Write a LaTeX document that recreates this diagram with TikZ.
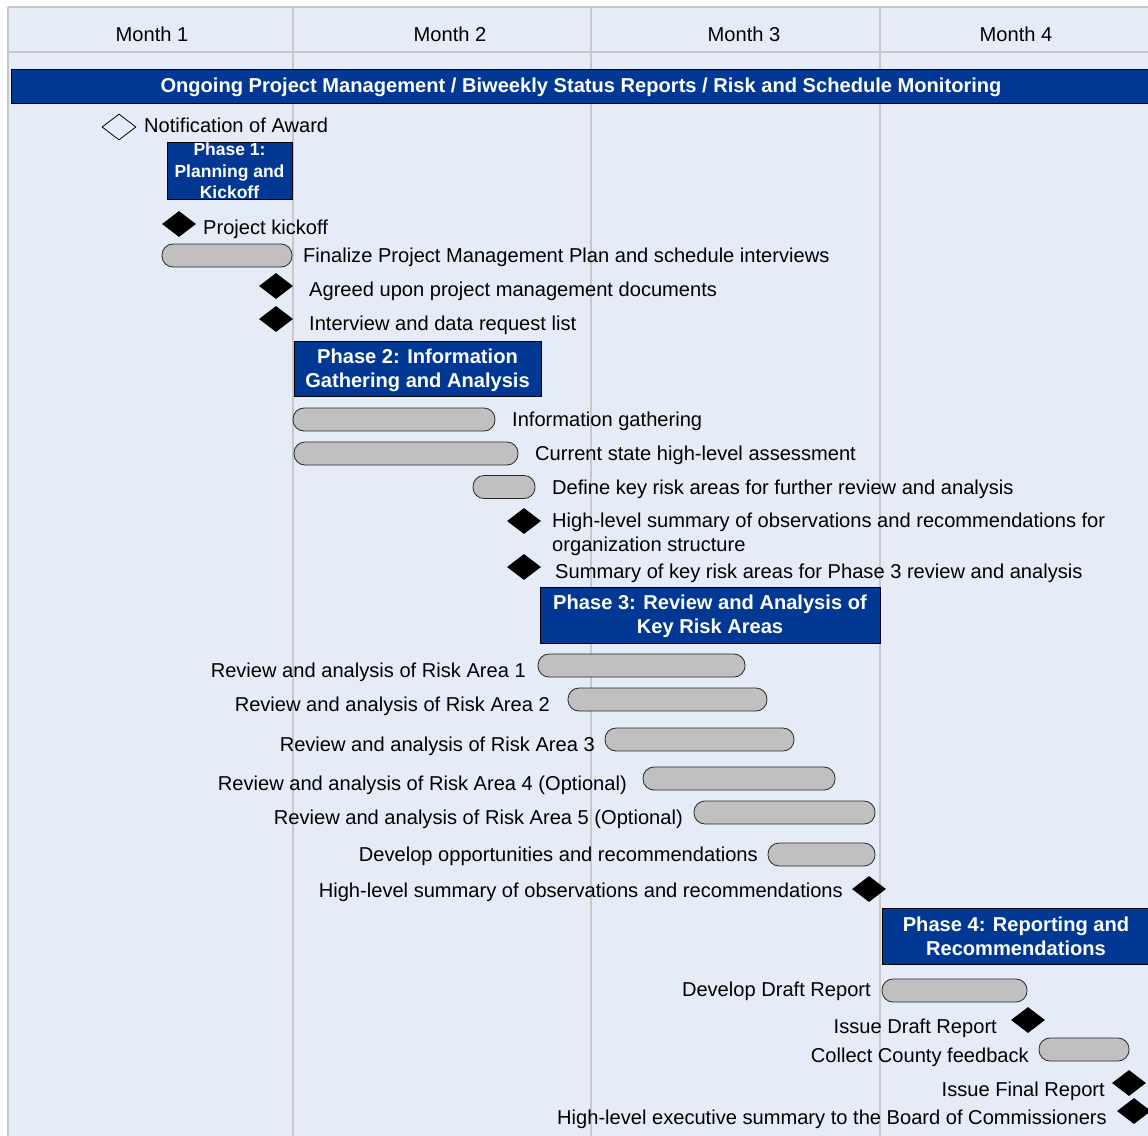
\documentclass[tikz,border=0pt]{standalone}
\usepackage{fontspec}
\setmainfont{Liberation Sans}
\usetikzlibrary{shapes.geometric}
\definecolor{bgblue}{HTML}{E6ECF7}
\definecolor{gridgray}{HTML}{C8C8C8}
\definecolor{phaseblue}{HTML}{003893}
\definecolor{bargray}{HTML}{C0C0C0}
\begin{document}
\begin{tikzpicture}[x=1pt,y=-1pt,
 lbl/.style={font=\fontsize{20.1}{24}\selectfont, inner sep=0pt},
 ms/.style={diamond, fill=black, minimum width=34pt, minimum height=26pt, inner sep=0pt},
 msopen/.style={diamond, draw=black, line width=0.8pt, minimum width=34pt, minimum height=26pt, inner sep=0pt},
 bar/.style={draw=black!85, fill=bargray, rounded corners=11pt, minimum height=23pt, inner sep=0pt, line width=0.8pt},
 phase/.style={draw=black, fill=phaseblue, inner sep=0pt, line width=0.8pt},
 phasetext/.style={lbl, font=\bfseries\fontsize{20.1}{24}\selectfont, text=white, align=center, anchor=base},
 gridline/.style={draw=gridgray, line width=1.2pt}
]
\useasboundingbox (0,0) rectangle (1148,1135);
\clip (0,0) rectangle (1148,1135);
\fill[white] (0,0) rectangle (1148,1135);
\fill[bgblue] (8,7) rectangle (1152,1140);
% grid
\path[gridline] (8,7) -- (1152,7);
\path[gridline] (8,52) -- (1152,52);
\path[gridline] (8,7) -- (8,1140);
\path[gridline] (293,7) -- (293,1140);
\path[gridline] (591,7) -- (591,1140);
\path[gridline] (880,7) -- (880,1140);
% months
\node[lbl, anchor=base] (m1) at (152,41) {Month 1};
\node[lbl, anchor=base] (m2) at (450,41) {Month 2};
\node[lbl, anchor=base] (m3) at (744,41) {Month 3};
\node[lbl, anchor=base] (m4) at (1016,41) {Month 4};
% ongoing
\node[phase, minimum width=1140pt, minimum height=34pt, anchor=north west] (ongoing) at (11,69) {};
\node[phasetext] (ongoingText) at (581,92) {Ongoing Project Management / Biweekly Status Reports / Risk and Schedule Monitoring};
% notification
\node[msopen] (dNot) at (119,127) {};
\node[lbl, anchor=base west] (tNot) at (144,132) {Notification of Award};
% phase 1
\node[phase, minimum width=125pt, minimum height=57pt] (ph1) at (229.5,170.5) {};
\node[phasetext, font=\bfseries\fontsize{17.5}{21.5}\selectfont] (ph1Text) at (229.5,198.5) {Phase 1:\\Planning and\\Kickoff};
\node[ms] (dKick) at (179,224) {};
\node[lbl, anchor=base west] (tKick) at (203,234) {Project kickoff};
\node[bar, minimum width=130pt] (bFin) at (227,255.5) {};
\node[lbl, anchor=base west] (tFin) at (303,262) {Finalize Project Management Plan and schedule interviews};
\node[ms] (dAgr) at (276,286) {};
\node[lbl, anchor=base west] (tAgr) at (309,296) {Agreed upon project management documents};
\node[ms] (dInt) at (276,319) {};
\node[lbl, anchor=base west] (tInt) at (309,330) {Interview and data request list};
% phase 2
\node[phase, minimum width=247pt, minimum height=55pt] (ph2) at (417.5,368.5) {};
\node[phasetext] (ph2Text) at (417.5,387) {Phase 2: Information\\Gathering and Analysis};
\node[bar, minimum width=202pt] (bInfo) at (394,419.5) {};
\node[lbl, anchor=base west] (tInfo) at (512,426) {Information gathering};
\node[bar, minimum width=224pt] (bCur) at (406,453.5) {};
\node[lbl, anchor=base west] (tCur) at (535,460) {Current state high-level assessment};
\node[bar, minimum width=62pt] (bDef) at (504,487) {};
\node[lbl, anchor=base west] (tDef) at (552,494) {Define key risk areas for further review and analysis};
\node[ms] (dHL) at (524,521) {};
\node[lbl, anchor=base west] (tHL) at (552,527) {High-level summary of observations and recommendations for};
\node[lbl, anchor=base west] (tHLb) at (552,551) {organization structure};
\node[ms] (dSum) at (524,567) {};
\node[lbl, anchor=base west] (tSum) at (555,578) {Summary of key risk areas for Phase 3 review and analysis};
% phase 3
\node[phase, minimum width=340pt, minimum height=56pt] (ph3) at (710,615) {};
\node[phasetext] (ph3Text) at (710,633) {Phase 3: Review and Analysis of\\Key Risk Areas};
\node[bar, minimum width=207pt] (bR1) at (641.5,665.5) {};
\node[lbl, anchor=base east] (tR1) at (526,677) {Review and analysis of Risk Area 1};
\node[bar, minimum width=199pt] (bR2) at (667.5,699.5) {};
\node[lbl, anchor=base east] (tR2) at (550,711) {Review and analysis of Risk Area 2};
\node[bar, minimum width=189pt] (bR3) at (699.5,739.5) {};
\node[lbl, anchor=base east] (tR3) at (595,751) {Review and analysis of Risk Area 3};
\node[bar, minimum width=192pt] (bR4) at (739,778.5) {};
\node[lbl, anchor=base east] (tR4) at (627,790) {Review and analysis of Risk Area 4 (Optional)};
\node[bar, minimum width=181pt] (bR5) at (784.5,812.5) {};
\node[lbl, anchor=base east] (tR5) at (683,824) {Review and analysis of Risk Area 5 (Optional)};
\node[bar, minimum width=107pt] (bOpp) at (821.5,854.5) {};
\node[lbl, anchor=base east] (tOpp) at (758,861) {Develop opportunities and recommendations};
\node[ms] (dObs) at (869,889) {};
\node[lbl, anchor=base east] (tObs) at (843,897) {High-level summary of observations and recommendations};
% phase 4
\node[phase, minimum width=268pt, minimum height=56pt] (ph4) at (1016,936) {};
\node[phasetext] (ph4Text) at (1016,955) {Phase 4: Reporting and\\Recommendations};
\node[bar, minimum width=145pt] (bDraft) at (954.5,990.5) {};
\node[lbl, anchor=base east] (tDraft) at (871,996) {Develop Draft Report};
\node[ms] (dIss) at (1028,1020) {};
\node[lbl, anchor=base east] (tIss) at (997,1033) {Issue Draft Report};
\node[bar, minimum width=90pt] (bColl) at (1084,1049.5) {};
\node[lbl, anchor=base east] (tColl) at (1029,1062) {Collect County feedback};
\node[ms] (dFin) at (1129,1083) {};
\node[lbl, anchor=base east] (tFinal) at (1105,1096) {Issue Final Report};
\node[ms] (dExec) at (1134,1111) {};
\node[lbl, anchor=base east] (tExec) at (1107,1124) {High-level executive summary to the Board of Commissioners};
\end{tikzpicture}
\end{document}
